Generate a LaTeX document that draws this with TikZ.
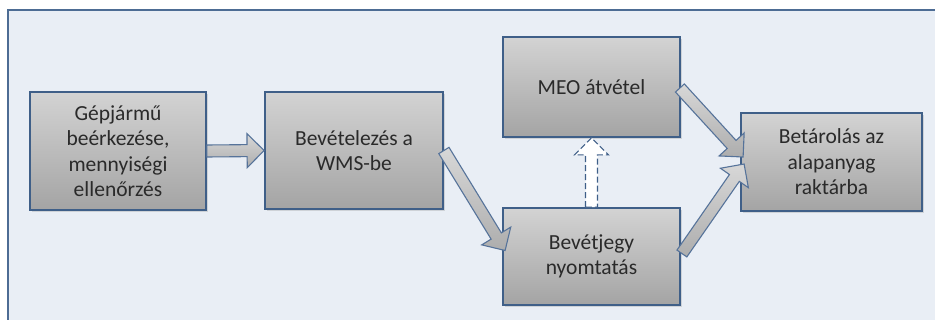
\documentclass[tikz,border=0pt]{standalone}
\usepackage{fontspec}
\setmainfont{Carlito}
\usetikzlibrary{calc,shadows}
\definecolor{bgc}{HTML}{E9EEF5}
\definecolor{framec}{HTML}{4D6C94}
\definecolor{boxborder}{HTML}{3F5F88}
\definecolor{arrowborder}{HTML}{56739A}
\definecolor{boxtop}{HTML}{D3D3D3}
\definecolor{boxbot}{HTML}{A4A4A4}
\definecolor{txt}{HTML}{2A2A2A}
\newcommand\blockarrow[3]{%
  \coordinate (bah) at ($(#3)!17pt!(#2)$);
  \draw[#1] ($(#2)!6pt!90:(#3)$) -- ($(bah)!6pt!90:(#3)$) -- ($(bah)!17pt!90:(#3)$)
    -- (#3) -- ($(bah)!17pt!-90:(#3)$) -- ($(bah)!6pt!-90:(#3)$) -- ($(#2)!6pt!-90:(#3)$) -- cycle;
}
\tikzset{
  procbox/.style={draw=boxborder, line width=1.8pt, top color=boxtop, bottom color=boxbot,
    inner sep=0pt, text=txt, align=center,
    font=\fontsize{21.5}{25.5}\selectfont,
    drop shadow={opacity=0.25, shadow xshift=2pt, shadow yshift=-2pt}},
  flowarrow/.style={draw=arrowborder, line width=1.1pt, top color=boxtop!90!white, bottom color=boxbot!90!white, line join=miter},
  dasharrow/.style={draw=boxborder, line width=1.1pt, fill=white, dashed, dash pattern=on 6pt off 3pt, line join=miter}
}
\begin{document}
\begin{tikzpicture}[x=1pt,y=-1pt]
\useasboundingbox (0,0) rectangle (935,320);
\fill[white] (0,0) rectangle (935,320);
\begin{scope}
  \clip (0,0) rectangle (935,320);
  \draw[framec, line width=2pt, fill=bgc] (8,10) rectangle (960,345);
\end{scope}

\node[procbox, minimum width=176pt, minimum height=118pt] (b1) at (118,151)
  {Gépjármű\\beérkezése,\\mennyiségi\\ellenőrzés};
\node[procbox, minimum width=178pt, minimum height=117pt] (b2) at (354,150.5)
  {Bevételezés a\\WMS-be};
\node[procbox, minimum width=177pt, minimum height=100pt] (meo) at (591.5,87)
  {MEO átvétel};
\node[procbox, minimum width=177pt, minimum height=97pt] (bev) at (591.5,256.5)
  {Bevétjegy\\nyomtatás};
\node[procbox, minimum width=181pt, minimum height=98pt] (bet) at (831.5,162)
  {Betárolás az\\alapanyag\\raktárba};

\coordinate (a2e) at ($(bev.west)+(3,-6)$);
\coordinate (a4s) at ($(meo.east)+(-1,1)$);
\coordinate (a4e) at ($(bet.west)+(3,-5)$);
\coordinate (a5s) at ($(bev.east)+(1,-3)$);
\coordinate (a5e) at ($(bet.west)+(4,2)$);

\blockarrow{flowarrow}{b1.east}{b2.west}
\blockarrow{flowarrow}{b2.east}{a2e}
\blockarrow{dasharrow}{bev.north}{meo.south}
\blockarrow{flowarrow}{a4s}{a4e}
\blockarrow{flowarrow}{a5s}{a5e}
\end{tikzpicture}
\end{document}
